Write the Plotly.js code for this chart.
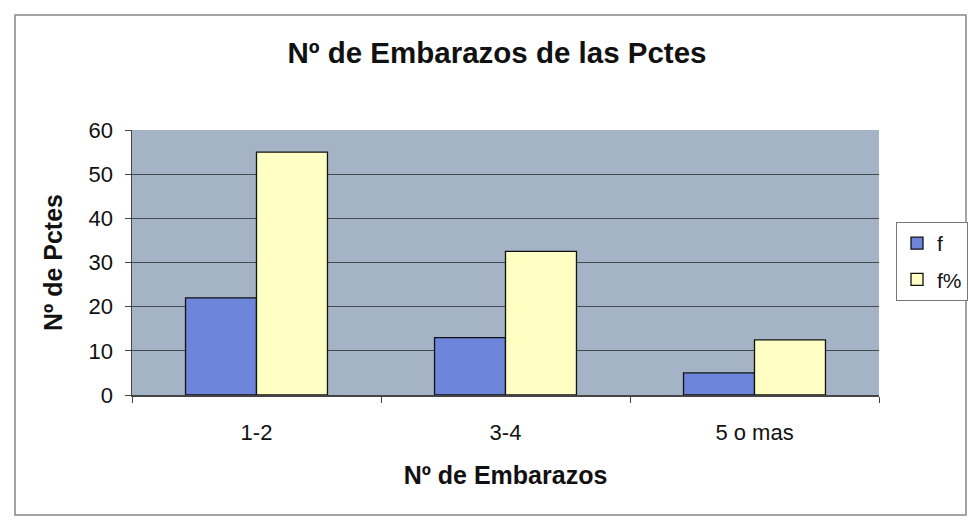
<!DOCTYPE html>
<html>
<head>
<meta charset="utf-8">
<script src="https://cdn.plot.ly/plotly-3.0.1.min.js"></script>
<style>html,body{margin:0;padding:0;background:#fff;}#chart{width:969px;height:520px;}</style>
</head>
<body>
<div id="chart"></div>
<script>
var categories = ["1-2", "3-4", "5 o mas"];
var seriesNames = ["f", "f%"];
var fValues = [22, 13, 5];
var fPctValues = [55, 32.5, 12.5];
var yTicks = [0, 10, 20, 30, 40, 50, 60];

var FONT = "Liberation Sans, Arial, sans-serif";
var traces = [
  {type: "bar", name: seriesNames[0], x: categories, y: fValues, legendgroup: "a",
   marker: {color: "#6d85db", line: {color: "#111", width: 1.3}}},
  {type: "bar", name: seriesNames[1], x: categories, y: fPctValues, legendgroup: "b",
   marker: {color: "#ffffc4", line: {color: "#111", width: 1.3}}}
];

var layout = {
  width: 969, height: 520,
  margin: {l: 132, r: 90, t: 130, b: 125},
  paper_bgcolor: "#ffffff",
  plot_bgcolor: "#a5b3c6",
  barmode: "group",
  bargap: 0.43,
  bargroupgap: 0,
  showlegend: true,
  font: {family: FONT, color: "#111"},
  title: {text: "<b>Nº de Embarazos de las Pctes</b>", font: {size: 29.5, family: FONT, color: "#111"},
          x: (497 - 132) / 747, xref: "paper", xanchor: "center", y: 1 - 53/520, yanchor: "middle"},
  xaxis: {
    type: "category", tickson: "boundaries", ticks: "outside", ticklen: 6, tickcolor: "#444",
    showline: true, linecolor: "#444", linewidth: 1.5, showgrid: false,
    tickfont: {size: 22, family: FONT, color: "#111"},
    ticklabelstandoff: 17,
    title: {text: "<b>Nº de Embarazos</b>", font: {size: 25, family: FONT, color: "#111"}, standoff: 22},
    automargin: false
  },
  yaxis: {
    range: [0, 60], tickvals: yTicks, ticktext: yTicks.map(String),
    ticks: "outside", ticklen: 6, tickcolor: "#444",
    showline: true, linecolor: "#444", linewidth: 1.5,
    showgrid: true, gridcolor: "#454a52", gridwidth: 1.3, zeroline: false,
    tickfont: {size: 22, family: FONT, color: "#111"},
    ticklabelstandoff: 7,
    title: {text: "<b>Nº de Pctes</b>", font: {size: 25, family: FONT, color: "#111"}, standoff: 19},
    automargin: false
  },
  legend: {
    xref: "container", yref: "container",
    x: 968 / 969, xanchor: "right", y: 1 - 222 / 520, yanchor: "top",
    bgcolor: "#ffffff", bordercolor: "#777", borderwidth: 1,
    font: {size: 21, family: FONT, color: "#111"},
    traceorder: "grouped", tracegroupgap: 6, itemwidth: 30
  },
  shapes: [
    {type: "rect", xref: "paper", yref: "paper",
     x0: (15 - 132) / 747, x1: (966 - 132) / 747, y0: (395 - 515) / 265, y1: (395 - 15) / 265,
     line: {color: "#888", width: 1.5}, fillcolor: "rgba(0,0,0,0)", layer: "below"}
  ]
};

Plotly.newPlot("chart", traces, layout, {displayModeBar: false, staticPlot: true});
</script>
</body>
</html>
